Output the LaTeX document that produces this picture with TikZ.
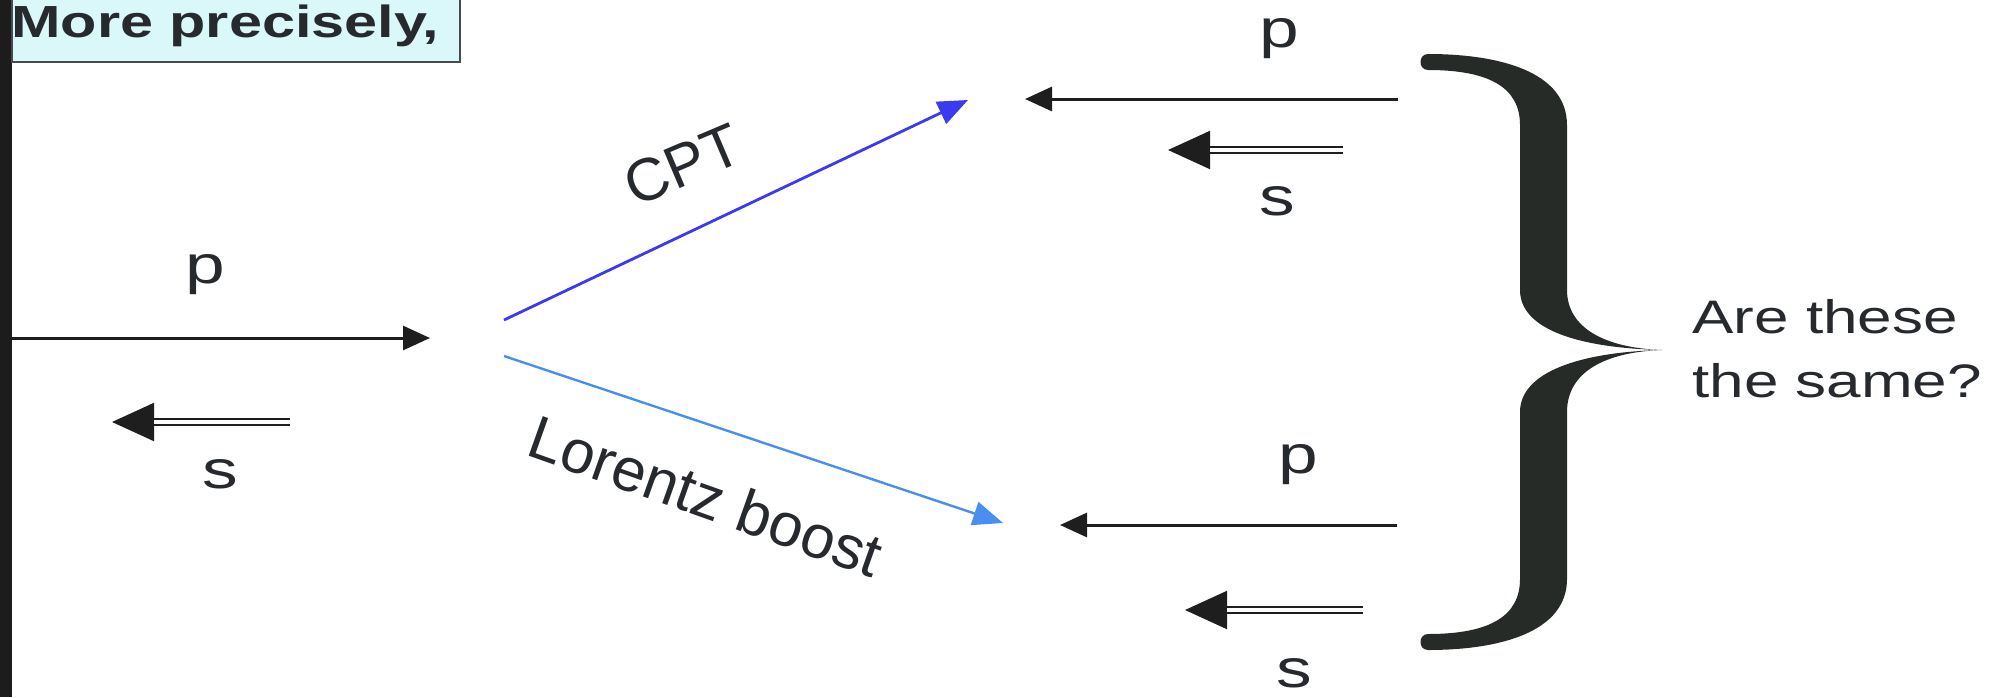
\documentclass[tikz,border=0pt]{standalone}
\usepackage{fontspec}
\setmainfont{Liberation Sans}
\usetikzlibrary{arrows.meta}
\definecolor{ink}{RGB}{38,42,46}
\definecolor{arrowink}{RGB}{30,30,30}
\definecolor{barink}{RGB}{28,28,28}
\definecolor{cptblue}{RGB}{58,58,240}
\definecolor{boostblue}{RGB}{74,142,240}
\definecolor{boxfill}{RGB}{218,247,249}
\definecolor{boxedge}{RGB}{70,74,76}
\definecolor{braceink}{RGB}{38,43,40}
\begin{document}
\begin{tikzpicture}[x=1pt,y=-1pt,
  lab/.style={text=ink, inner sep=0pt, anchor=base, xscale=1.32,
    font=\fontsize{54}{60}\selectfont},
  qtext/.style={text=ink, inner sep=0pt, anchor=base west, xscale=1.32,
    font=\fontsize{47}{64}\selectfont},
  titletext/.style={text=ink, inner sep=0pt, anchor=base west, xscale=1.32,
    font=\bfseries\fontsize{45}{50}\selectfont},
  rotlab/.style={text=ink, inner sep=0pt},
  parrow/.style={draw=arrowink, line width=3pt,
    -{Triangle[length=27pt,width=24pt]}},
  stip/.style={draw=arrowink, line width=2pt,
    -{Triangle[length=42pt,width=38pt]}},
  sdouble/.style={draw=arrowink, line width=2pt, double=white,
    double distance=3.5pt, shorten >=42pt},
  maparrow/.style={line width=2.8pt, -{Triangle[length=30pt,width=24pt]}}
]
\useasboundingbox (0,0) rectangle (2005,697);
\clip (0,0) rectangle (2005,697);

% frame bar on the left
\fill[barink] (0,0) rectangle (12,697);

% heading box
\draw[draw=boxedge, line width=2pt, fill=boxfill] (12,-10) rectangle (460,62);
\node[titletext] (title) at (11,37) {More precisely,};

% incoming particle: momentum and spin
\coordinate (inL) at (12,338);
\coordinate (inR) at (430,338);
\draw[parrow] (inL) -- (inR);
\node[lab] (inp) at (205,283) {p};
\coordinate (insR) at (290,422);
\coordinate (insL) at (112,422);
\draw[stip] (insR) -- (insL);
\draw[sdouble] (insR) -- (insL);
\node[lab] (ins) at (220,488) {s};

% the two transformations
\coordinate (cptA) at (504,320);
\coordinate (cptB) at (968,100);
\draw[maparrow, draw=cptblue] (cptA) -- (cptB);
\node[rotlab, rotate=23, font=\fontsize{60}{66}\selectfont] (cpt) at (683,165) {CPT};

\coordinate (lzA) at (504,356);
\coordinate (lzB) at (1003,523);
\draw[maparrow, draw=boostblue, line width=2.4pt] (lzA) -- (lzB);
\node[rotlab, rotate=-19.5, font=\fontsize{61}{66}\selectfont] (lz) at (706,496) {Lorentz boost};

% result of CPT
\coordinate (tpR) at (1398,99);
\coordinate (tpL) at (1025,99);
\draw[parrow] (tpR) -- (tpL);
\node[lab] (tp) at (1279,47) {p};
\coordinate (tsR) at (1343,150);
\coordinate (tsL) at (1168,150);
\draw[stip] (tsR) -- (tsL);
\draw[sdouble] (tsR) -- (tsL);
\node[lab] (ts) at (1277,215) {s};

% result of the boost
\coordinate (bpR) at (1397,525);
\coordinate (bpL) at (1060,525);
\draw[parrow] (bpR) -- (bpL);
\node[lab] (bp) at (1298,473) {p};
\coordinate (bsR) at (1363,610);
\coordinate (bsL) at (1185,610);
\draw[stip] (bsR) -- (bsL);
\draw[sdouble] (bsR) -- (bsL);
\node[lab] (bs) at (1294,687) {s};

% curly brace, upper and lower halves meeting at the tip
\fill[braceink]
  (1662,350) .. controls (1605,348) and (1567,328) .. (1567,290)
  -- (1567,125)
  .. controls (1567,72) and (1500,54) .. (1428,54)
  .. controls (1418,54) and (1418,70) .. (1428,70)
  .. controls (1490,70) and (1520,88) .. (1520,125)
  -- (1520,290)
  .. controls (1520,330) and (1580,348) .. (1662,350) -- cycle;
\fill[braceink]
  (1662,350) .. controls (1605,352) and (1567,372) .. (1567,412)
  -- (1567,579)
  .. controls (1567,632) and (1500,650) .. (1428,650)
  .. controls (1418,650) and (1418,634) .. (1428,634)
  .. controls (1490,634) and (1520,616) .. (1520,579)
  -- (1520,412)
  .. controls (1520,372) and (1580,352) .. (1662,350) -- cycle;

% question
\node[qtext] (q1) at (1692,333) {Are these};
\node[qtext] (q2) at (1692,397) {the same?};
\end{tikzpicture}
\end{document}
